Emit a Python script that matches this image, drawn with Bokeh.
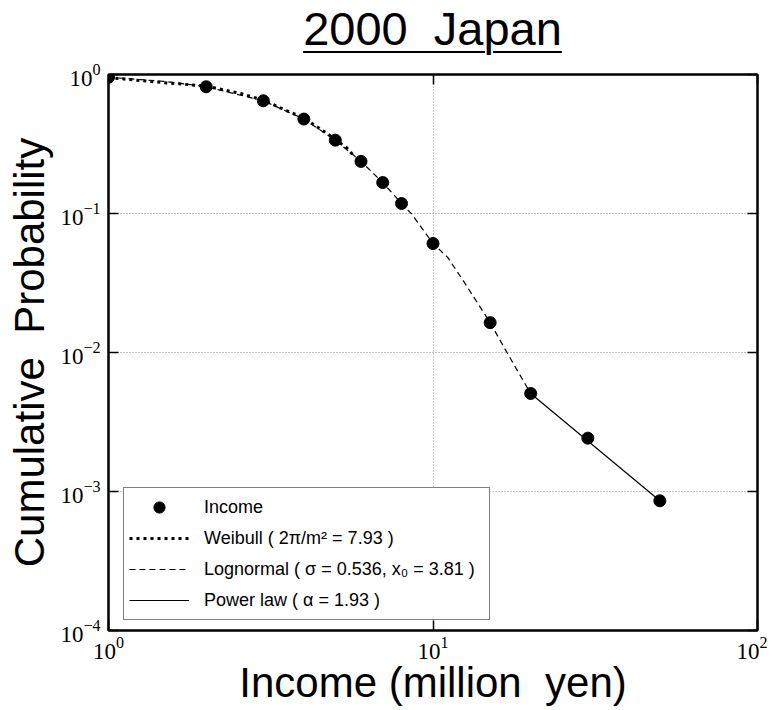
from bokeh.plotting import figure
from bokeh.layouts import column
from bokeh.models import (Range1d, FixedTicker, LogAxis, Legend, LegendItem,
                          CustomJSTickFormatter, LogTickFormatter, Div)
from bokeh.embed import file_html
from bokeh.resources import INLINE

# ---- data ----
income_x = [1, 2, 3, 4, 5, 6, 7, 8, 10, 15, 20, 30, 50]
income_y = [0.955, 0.816, 0.647, 0.478, 0.337, 0.237, 0.167, 0.118, 0.0608,
            0.0164, 0.00507, 0.00242, 0.000857]

weibull_x = [1.0, 1.35, 2.0, 2.55, 3.0, 3.55, 4.0, 4.72, 5.44, 5.7]
weibull_y = [0.951, 0.890, 0.825, 0.730, 0.654, 0.548, 0.486, 0.376, 0.295, 0.260]

lognormal_x = [1, 1.5, 2, 3, 4, 5, 6, 7, 8, 8.6, 10, 11.1, 12.4, 15, 16.9, 20]
lognormal_y = [0.955, 0.89, 0.816, 0.647, 0.478, 0.337, 0.237, 0.167, 0.118,
               0.099, 0.0608, 0.0483, 0.0328, 0.0164, 0.0100, 0.00507]

power_x = [20, 50]
power_y = [0.00507, 0.000857]

x_ticks = [1, 10, 100]
y_ticks = [1e-4, 1e-3, 1e-2, 1e-1, 1]

title_text = "2000 \u00a0Japan"
x_label = "Income (million \u00a0yen)"
y_label = "Cumulative \u00a0Probability"
legend_labels = ["Income", "Weibull ( 2\u03c0/m\u00b2 = 7.93 )",
                 "Lognormal ( \u03c3 = 0.536, x\u2080 = 3.81 )",
                 "Power law ( \u03b1 = 1.93 )"]

SANS = "Liberation Sans"
SERIF = "Liberation Serif"

title_div = Div(
    text=('<div style="box-sizing:content-box;width:649px;height:52px;'
          'padding-top:5px;margin-left:108px;text-align:center;'
          'font-family:\'Liberation Sans\';font-size:47px;line-height:48px;'
          'color:black;white-space:pre;">'
          '<span style="text-decoration:underline;text-decoration-thickness:2px;'
          'text-underline-offset:6px;">' + title_text + '</span></div>'),
    width=767, height=58, margin=(0, 0, 0, 0))

p = figure(frame_width=649, frame_height=556,
           x_axis_type="log", y_axis_type="log",
           x_range=Range1d(1, 100), y_range=Range1d(1e-4, 1),
           output_backend="svg", toolbar_location=None,
           min_border_left=108, min_border_right=10,
           min_border_top=16, min_border_bottom=76)

p.outline_line_color = "black"
p.outline_line_width = 2
p.background_fill_color = "white"
p.border_fill_color = "white"

for ax, ticks in ((p.xaxis[0], x_ticks), (p.yaxis[0], y_ticks)):
    ax.ticker = FixedTicker(ticks=ticks, minor_ticks=[])
    ax.formatter = LogTickFormatter()
    ax.major_label_text_font = SERIF
    ax.major_label_text_font_size = "23px"
    ax.major_label_text_color = "black"
    ax.major_tick_in = 10
    ax.major_tick_out = 0
    ax.major_tick_line_width = 1.5
    ax.minor_tick_line_color = None
    ax.axis_line_width = 2
    ax.axis_label_text_font = SANS
    ax.axis_label_text_font_size = "42px"
    ax.axis_label_text_font_style = "normal"
    ax.axis_label_text_color = "black"

p.xaxis.axis_label = x_label
p.yaxis.axis_label = y_label
p.xaxis.major_label_standoff = 6
p.yaxis.major_label_standoff = 8
p.xaxis.axis_label_standoff = -3
p.yaxis.axis_label_standoff = 4

for loc, ticks in (("above", x_ticks), ("right", y_ticks)):
    ax = LogAxis(ticker=FixedTicker(ticks=ticks, minor_ticks=[]),
                 formatter=CustomJSTickFormatter(code="return '';"),
                 major_label_text_font_size="1px",
                 major_tick_in=10, major_tick_out=0, major_tick_line_width=1.5,
                 minor_tick_line_color=None, axis_line_width=2,
                 major_label_standoff=0)
    p.add_layout(ax, loc)

p.xgrid.ticker = FixedTicker(ticks=x_ticks)
p.ygrid.ticker = FixedTicker(ticks=y_ticks)
for g in (p.xgrid, p.ygrid):
    g.grid_line_color = "#888888"
    g.grid_line_dash = "1 2"
    g.grid_line_width = 1

r_w = p.line(weibull_x, weibull_y, line_color="black", line_width=3,
             line_dash="3 4")
r_l = p.line(lognormal_x, lognormal_y, line_color="black", line_width=1.2,
             line_dash="6 4")
r_p = p.line(power_x, power_y, line_color="black", line_width=1.2)
r_i = p.scatter(income_x, income_y, size=12, color="black")

legend = Legend(items=[LegendItem(label=legend_labels[0], renderers=[r_i]),
                       LegendItem(label=legend_labels[1], renderers=[r_w]),
                       LegendItem(label=legend_labels[2], renderers=[r_l]),
                       LegendItem(label=legend_labels[3], renderers=[r_p])],
                location=(15, 10), margin=0, padding=5, spacing=3,
                glyph_width=60, glyph_height=28, label_height=28,
                label_standoff=15, label_width=280,
                label_text_font=SANS, label_text_font_size="18px",
                label_text_color="black",
                border_line_color="black", border_line_width=1.5,
                background_fill_color="white", background_fill_alpha=1)
p.add_layout(legend, "center")

layout = column(title_div, p, spacing=0)
open("out.html", "w").write(file_html(layout, INLINE))
